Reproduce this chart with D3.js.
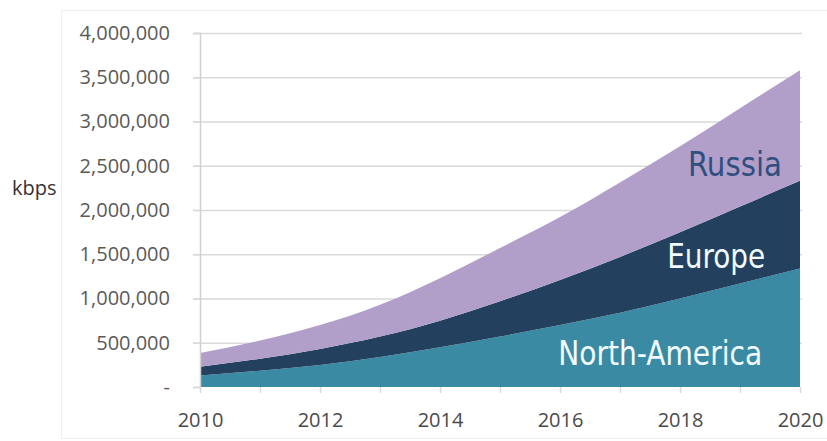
<!DOCTYPE html>
<html lang="en">
    <head>
        <meta charset="utf-8">
        <title>Traffic by region (kbps)</title>
        <script src="https://d3js.org/d3.v7.min.js"></script>
        <style type="text/css">
            body { margin: 0; background: #fff; }
            text { font-family: "Open Sans", "DejaVu Sans", sans-serif; }
            .region { font-family: "Liberation Sans Narrow", "DejaVu Sans Condensed", "Roboto", sans-serif; }
        </style>
    </head>
    <body>
        <script type="text/javascript">

        // Constants
        const w = 827;
        const h = 441;
        const plotLeft = 200, plotRight = 800, plotTop = 33, plotBottom = 387;

        // Data (kbps)
        const years = [2010, 2011, 2012, 2013, 2014, 2015, 2016, 2017, 2018, 2019, 2020];
        const northAmerica = [130000, 185000, 250000, 340000, 450000, 570000, 700000, 840000, 1000000, 1170000, 1340000];
        const europe       = [100000, 135000, 180000, 230000, 300000, 400000, 510000, 630000, 750000, 870000, 990000];
        const russia       = [155000, 205000, 270000, 360000, 480000, 600000, 710000, 840000, 970000, 1110000, 1250000];

        const seriesNames = ["North-America", "Europe", "Russia"];
        const seriesColors = ["#3a8aa3", "#24405f", "#b19fca"];

        const yTicks = [0, 500000, 1000000, 1500000, 2000000, 2500000, 3000000, 3500000, 4000000];
        const xTickLabels = [2010, 2012, 2014, 2016, 2018, 2020];

        // label anchors, in data units (right end of text, baseline)
        const labelYears = [2019.37, 2019.42, 2019.7];
        const labelValues = [249000, 1345000, 2384000];
        const labelColors = ["#f2fbff", "#f2fbff", "#2f4f7e"];
        const labelLengths = [204, 98, 94];

        const table = years.map((yr, i) => ({
            year: yr,
            "North-America": northAmerica[i],
            "Europe": europe[i],
            "Russia": russia[i]
        }));

        // SVG
        const svg = d3.select("body")
                      .append("svg")
                      .attr("width", w)
                      .attr("height", h);

        // faint frame
        svg.append("rect")
           .attr("x", 61.5)
           .attr("y", 10.5)
           .attr("width", 780)
           .attr("height", 428)
           .attr("fill", "none")
           .attr("stroke", "#efefef");

        // Scales
        const xScale = d3.scaleLinear()
                         .domain([2010, 2020])
                         .range([plotLeft, plotRight]);

        const yScale = d3.scaleLinear()
                         .domain([0, 4000000])
                         .range([plotBottom, plotTop]);

        // gridlines
        svg.append("g")
           .selectAll("line")
           .data(yTicks.filter(d => d > 0))
           .enter()
           .append("line")
           .attr("x1", plotLeft - 7)
           .attr("x2", plotRight + 2)
           .attr("y1", d => yScale(d) + 0.5)
           .attr("y2", d => yScale(d) + 0.5)
           .attr("stroke", "#d9d9d9")
           .attr("stroke-width", 1.5);

        // Stacked areas
        const stack = d3.stack().keys(seriesNames);
        const layers = stack(table);

        const area = d3.area()
                       .x(d => xScale(d.data.year))
                       .y0(d => yScale(d[0]))
                       .y1(d => yScale(d[1]))
                       .curve(d3.curveNatural);

        svg.selectAll("path.layer")
           .data(layers)
           .enter()
           .append("path")
           .attr("class", "layer")
           .attr("d", area)
           .attr("fill", (d, i) => seriesColors[i]);

        // Left axis
        const leftAxis = d3.axisLeft()
                           .scale(yScale)
                           .tickValues(yTicks)
                           .tickSize(7)
                           .tickPadding(23)
                           .tickFormat(d => d === 0 ? "-" : d3.format(",")(d));

        const gy = svg.append("g")
                      .attr("transform", "translate(" + plotLeft + ",0)")
                      .call(leftAxis);
        gy.select(".domain").attr("stroke", "#d0d0d0").attr("stroke-width", 1.5);
        gy.selectAll(".tick line").attr("stroke", "#d9d9d9").attr("stroke-width", 1.5);
        gy.selectAll(".tick text")
          .attr("font-size", "20px")
          .attr("fill", "#5a5a5a")
          .style("font-family", "'Open Sans', sans-serif");

        // Bottom axis
        const bottomAxis = d3.axisBottom()
                             .scale(xScale)
                             .tickValues(years)
                             .tickSize(6)
                             .tickPadding(20)
                             .tickFormat(d => xTickLabels.includes(d) ? d : "");

        const gx = svg.append("g")
                      .attr("transform", "translate(0," + plotBottom + ")")
                      .call(bottomAxis);
        gx.select(".domain").remove();
        gx.selectAll(".tick line").attr("stroke", "#d9d9d9").attr("stroke-width", 1.5);
        gx.selectAll(".tick text")
          .attr("font-size", "20px")
          .attr("fill", "#4a4a4a")
          .style("font-family", "'Open Sans', sans-serif");

        // y axis unit label
        svg.append("text")
           .attr("x", 12)
           .attr("y", 195)
           .attr("font-size", "20px")
           .attr("fill", "#333")
           .text("kbps");

        // region labels
        svg.selectAll("text.region")
           .data(seriesNames)
           .enter()
           .append("text")
           .attr("class", "region")
           .attr("x", (d, i) => xScale(labelYears[i]))
           .attr("y", (d, i) => yScale(labelValues[i]))
           .attr("text-anchor", "end")
           .attr("font-size", "34px")
           .attr("textLength", (d, i) => labelLengths[i])
           .attr("lengthAdjust", "spacingAndGlyphs")
           .attr("fill", (d, i) => labelColors[i])
           .text(d => d);

        </script>
    </body>
</html>
